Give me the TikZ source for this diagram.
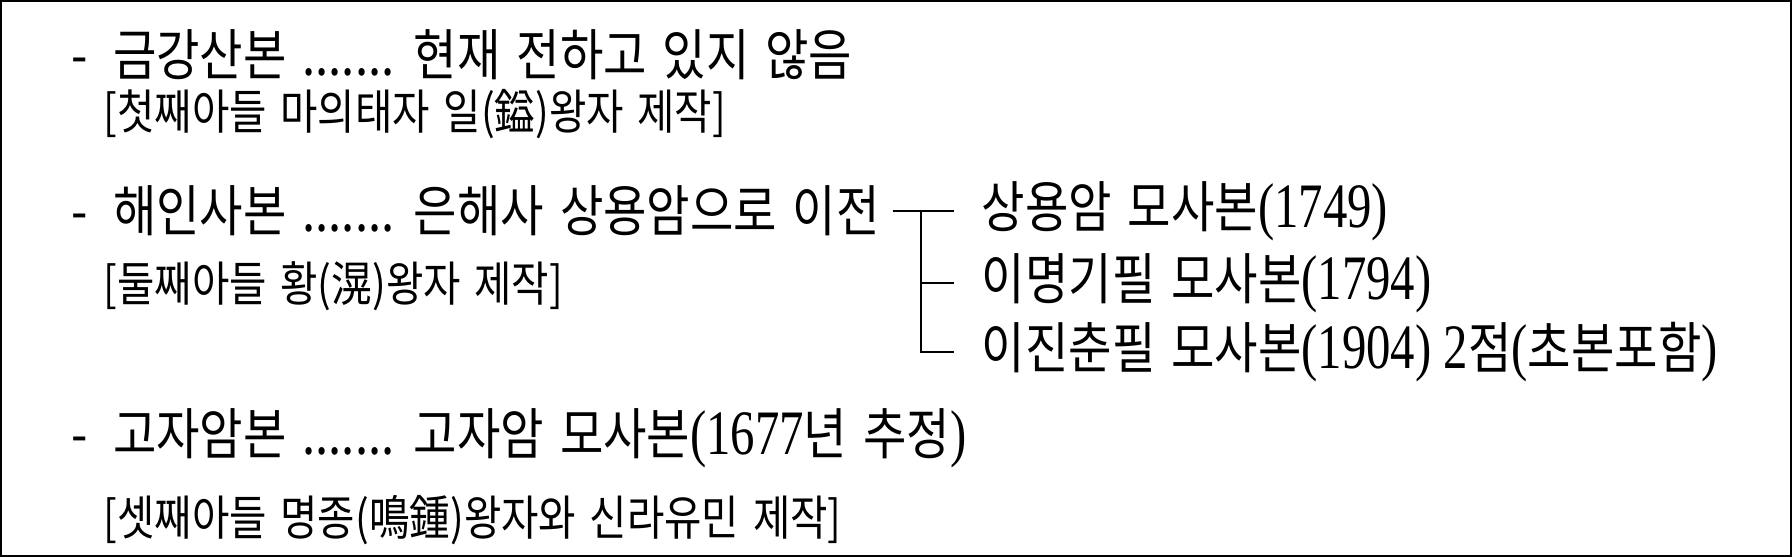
\documentclass[tikz,border=0pt]{standalone}
\usepackage{fontspec}
\setmainfont{Noto Sans CJK KR}[FakeStretch=0.85,WordSpace=1.5]
\newfontfamily\numfont{Liberation Serif}[FakeStretch=0.77,Scale=1.14]
\newcommand{\yr}[1]{{\numfont #1}}
\usetikzlibrary{positioning}

\tikzset{
  main/.style={anchor=west, inner sep=0pt, font=\fontsize{15.8}{18}\selectfont},
  note/.style={anchor=west, inner sep=0pt, font=\fontsize{13.6}{16}\selectfont},
  link/.style={line width=0.45pt}
}

\begin{document}
\begin{tikzpicture}[x=0.1mm,y=-0.1mm]
		\useasboundingbox (0,0) rectangle (1792,557);
		\draw[line width=0.6pt] (1,1) rectangle (1791,556);
		% three copies
		\node[main] (geum) at (71,55) {-\hspace{0.45em}금강산본 ....... 현재 전하고 있지 않음};
		\node[note] (geumN) at (103,114) {[첫째아들 마의태자 일(鎰)왕자 제작]};
		\node[main] (hae) at (71,211) {-\hspace{0.45em}해인사본 ....... 은해사 상용암으로 이전};
		\node[note] (haeN) at (103,286) {[둘째아들 황(滉)왕자 제작]};
		\node[main] (goja) at (71,438) {-\hspace{0.45em}고자암본 ....... 고자암 모사본\yr{(1677}년 추정\yr{)}};
		\node[note] (gojaN) at (103,520) {[셋째아들 명종(鳴鍾)왕자와 신라유민 제작]};
		% later copies
		\node[main] (sang) at (981,211) {상용암 모사본\yr{(1749)}};
		\node[main] (lee) at (981,283) {이명기필 모사본\yr{(1794)}};
		\node[main] (jin) at (981,352) {이진춘필 모사본\yr{(1904) 2}점\yr{(}초본포함\yr{)}};
		\coordinate (br) at (921,211);
		\draw[link] ([xshift=1.2mm]hae.east) -- ([xshift=-2.7mm]sang.west);
		\draw[link] (br) |- ([xshift=-2.7mm]jin.west);
		\draw[link] (br |- lee.west) -- ([xshift=-2.7mm]lee.west);
	\end{tikzpicture}
\end{document}
